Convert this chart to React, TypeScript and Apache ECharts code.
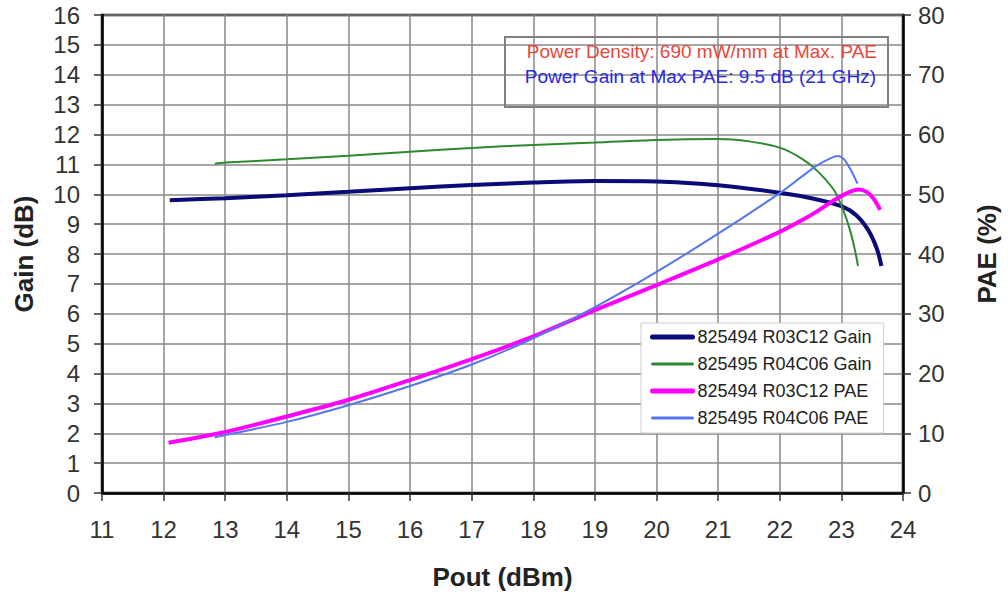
import React, { useEffect, useRef } from "react";
import * as echarts from "echarts";

const xTicks = { min: 11, max: 24, interval: 1 };

const gain494X = [12.1, 13, 14, 15, 16, 17, 18, 19, 20, 21, 22, 22.55, 23, 23.25, 23.45, 23.58, 23.65];
const gain494Y = [9.8, 9.87, 9.97, 10.08, 10.2, 10.31, 10.39, 10.44, 10.43, 10.3, 10.05, 9.85, 9.6, 9.28, 8.75, 8.15, 7.6];

const gain495X = [12.83, 13, 14, 15, 16, 17, 18, 19, 20, 21, 21.5, 22, 22.35, 22.6, 22.88, 23.03, 23.14, 23.22, 23.27];
const gain495Y = [11.02, 11.06, 11.17, 11.29, 11.42, 11.55, 11.65, 11.73, 11.82, 11.85, 11.77, 11.56, 11.2, 10.8, 10.14, 9.47, 8.8, 8.13, 7.6];

const pae494X = [12.08, 13, 14, 15, 16, 17, 18, 19, 20, 21, 22, 22.35, 22.6, 22.88, 23.09, 23.28, 23.41, 23.52, 23.63];
const pae494Y = [8.4, 10.2, 12.8, 15.6, 18.9, 22.4, 26.2, 30.6, 34.8, 39.1, 43.7, 45.6, 47.1, 49.0, 50.2, 50.8, 50.4, 49.3, 47.4];

const pae495X = [12.83, 13, 14, 15, 16, 17, 18, 19, 20, 21, 22, 22.35, 22.6, 22.82, 22.94, 23.03, 23.14, 23.26];
const pae495Y = [9.3, 9.7, 11.9, 14.7, 17.9, 21.5, 25.9, 31.1, 37.0, 43.4, 50.2, 52.9, 54.8, 56.0, 56.4, 56.0, 54.3, 51.8];

const seriesNames = [
  "825494 R03C12 Gain",
  "825495 R04C06 Gain",
  "825494 R03C12 PAE",
  "825495 R04C06 PAE",
];

const noteLine1 = "Power Density: 690 mW/mm at Max. PAE";
const noteLine2 = "Power Gain at Max PAE: 9.5 dB (21 GHz)";

const zip = (xs: number[], ys: number[]) => xs.map((x, i) => [x, ys[i]]);

const FONT = "'Liberation Sans', Arial, sans-serif";

const COLORS = ["#0a0a78", "#2e8a30", "#ff00ff", "#5577ee"];
const WIDTHS = [4, 2, 4, 2];

export default function App() {
  const ref = useRef<HTMLDivElement>(null);
  useEffect(() => {
    if (!ref.current) return;
    const chart = echarts.init(ref.current, undefined, { renderer: "svg" });
    const axisLabel = { color: "#333", fontSize: 24, fontFamily: FONT };
    const nameStyle = { color: "#222", fontSize: 26, fontWeight: "bold" as const, fontFamily: FONT };
    const allData = [
      zip(gain494X, gain494Y),
      zip(gain495X, gain495Y),
      zip(pae494X, pae494Y),
      zip(pae495X, pae495Y),
    ];
    chart.setOption({
      animation: false,
      backgroundColor: "#fff",
      grid: {
        left: 102,
        right: 105,
        top: 15,
        bottom: 105,
        outerBoundsMode: "none",
        containLabel: false,
        show: true,
        borderColor: "#000",
        borderWidth: 2.5,
        backgroundColor: "transparent",
      },
      xAxis: {
        type: "value",
        min: xTicks.min,
        max: xTicks.max,
        interval: xTicks.interval,
        name: "Pout (dBm)",
        nameLocation: "middle",
        nameGap: 71,
        nameTextStyle: nameStyle,
        axisLine: { lineStyle: { color: "#000", width: 2.5 } },
        axisTick: { length: 8, lineStyle: { color: "#333", width: 1.5 } },
        axisLabel: { ...axisLabel, margin: 24 },
        splitLine: { lineStyle: { color: "#888", width: 1.5 } },
      },
      yAxis: [
        {
          type: "value",
          min: 0,
          max: 16,
          interval: 1,
          name: "Gain (dB)",
          nameLocation: "middle",
          nameGap: 65,
          nameTextStyle: nameStyle,
          axisLine: { show: true, lineStyle: { color: "#000", width: 2.5 } },
          axisTick: { show: true, length: 8, lineStyle: { color: "#333", width: 1.5 } },
          axisLabel: { ...axisLabel, margin: 22 },
          splitLine: { lineStyle: { color: "#888", width: 1.5 } },
        },
        {
          type: "value",
          min: 0,
          max: 80,
          interval: 10,
          position: "right",
          name: "PAE (%)",
          nameLocation: "middle",
          nameGap: 71,
          nameRotate: 90,
          nameTextStyle: nameStyle,
          axisLine: { show: true, lineStyle: { color: "#000", width: 2.5 } },
          axisTick: { show: true, length: 8, lineStyle: { color: "#333", width: 1.5 } },
          axisLabel: { ...axisLabel, margin: 15 },
          splitLine: { show: false },
        },
      ],
      legend: {
        orient: "vertical",
        left: 641,
        top: 323,
        padding: [5, 12, 6, 9],
        itemWidth: 40,
        itemHeight: 14,
        itemGap: 9,
        itemStyle: { opacity: 0 },
        backgroundColor: "#fff",
        borderColor: "#ccc",
        borderWidth: 1,
        textStyle: { color: "#222", fontSize: 18, fontFamily: FONT },
        data: seriesNames.map((n, i) => ({
          name: n,
          lineStyle: { width: WIDTHS[i] + 1, color: COLORS[i], cap: "round" },
        })),
      },
      graphic: [
        {
          type: "rect",
          left: 504,
          top: 36,
          shape: { width: 383, height: 70 },
          style: { fill: "transparent", stroke: "#808080", lineWidth: 2 },
          z: 10,
        },
        {
          type: "text",
          right: 1008 - 877,
          top: 42,
          style: { text: noteLine1, fill: "#e8483c", font: `19px ${FONT}` },
          z: 11,
        },
        {
          type: "text",
          right: 1008 - 876,
          top: 67,
          style: { text: noteLine2, fill: "#2a2ae0", font: `19px ${FONT}` },
          z: 11,
        },
      ],
      series: seriesNames.map((n, i) => ({
        name: n,
        type: "line",
        yAxisIndex: i < 2 ? 0 : 1,
        smooth: 0.3,
        symbol: "none",
        data: allData[i],
        lineStyle: { color: COLORS[i], width: WIDTHS[i] },
        itemStyle: { color: COLORS[i] },
        z: 5 + i,
      })),
    });
    return () => chart.dispose();
  }, []);
  return <div ref={ref} style={{ width: 1008, height: 598, position: "fixed", left: 0, top: 0 }} />;
}
